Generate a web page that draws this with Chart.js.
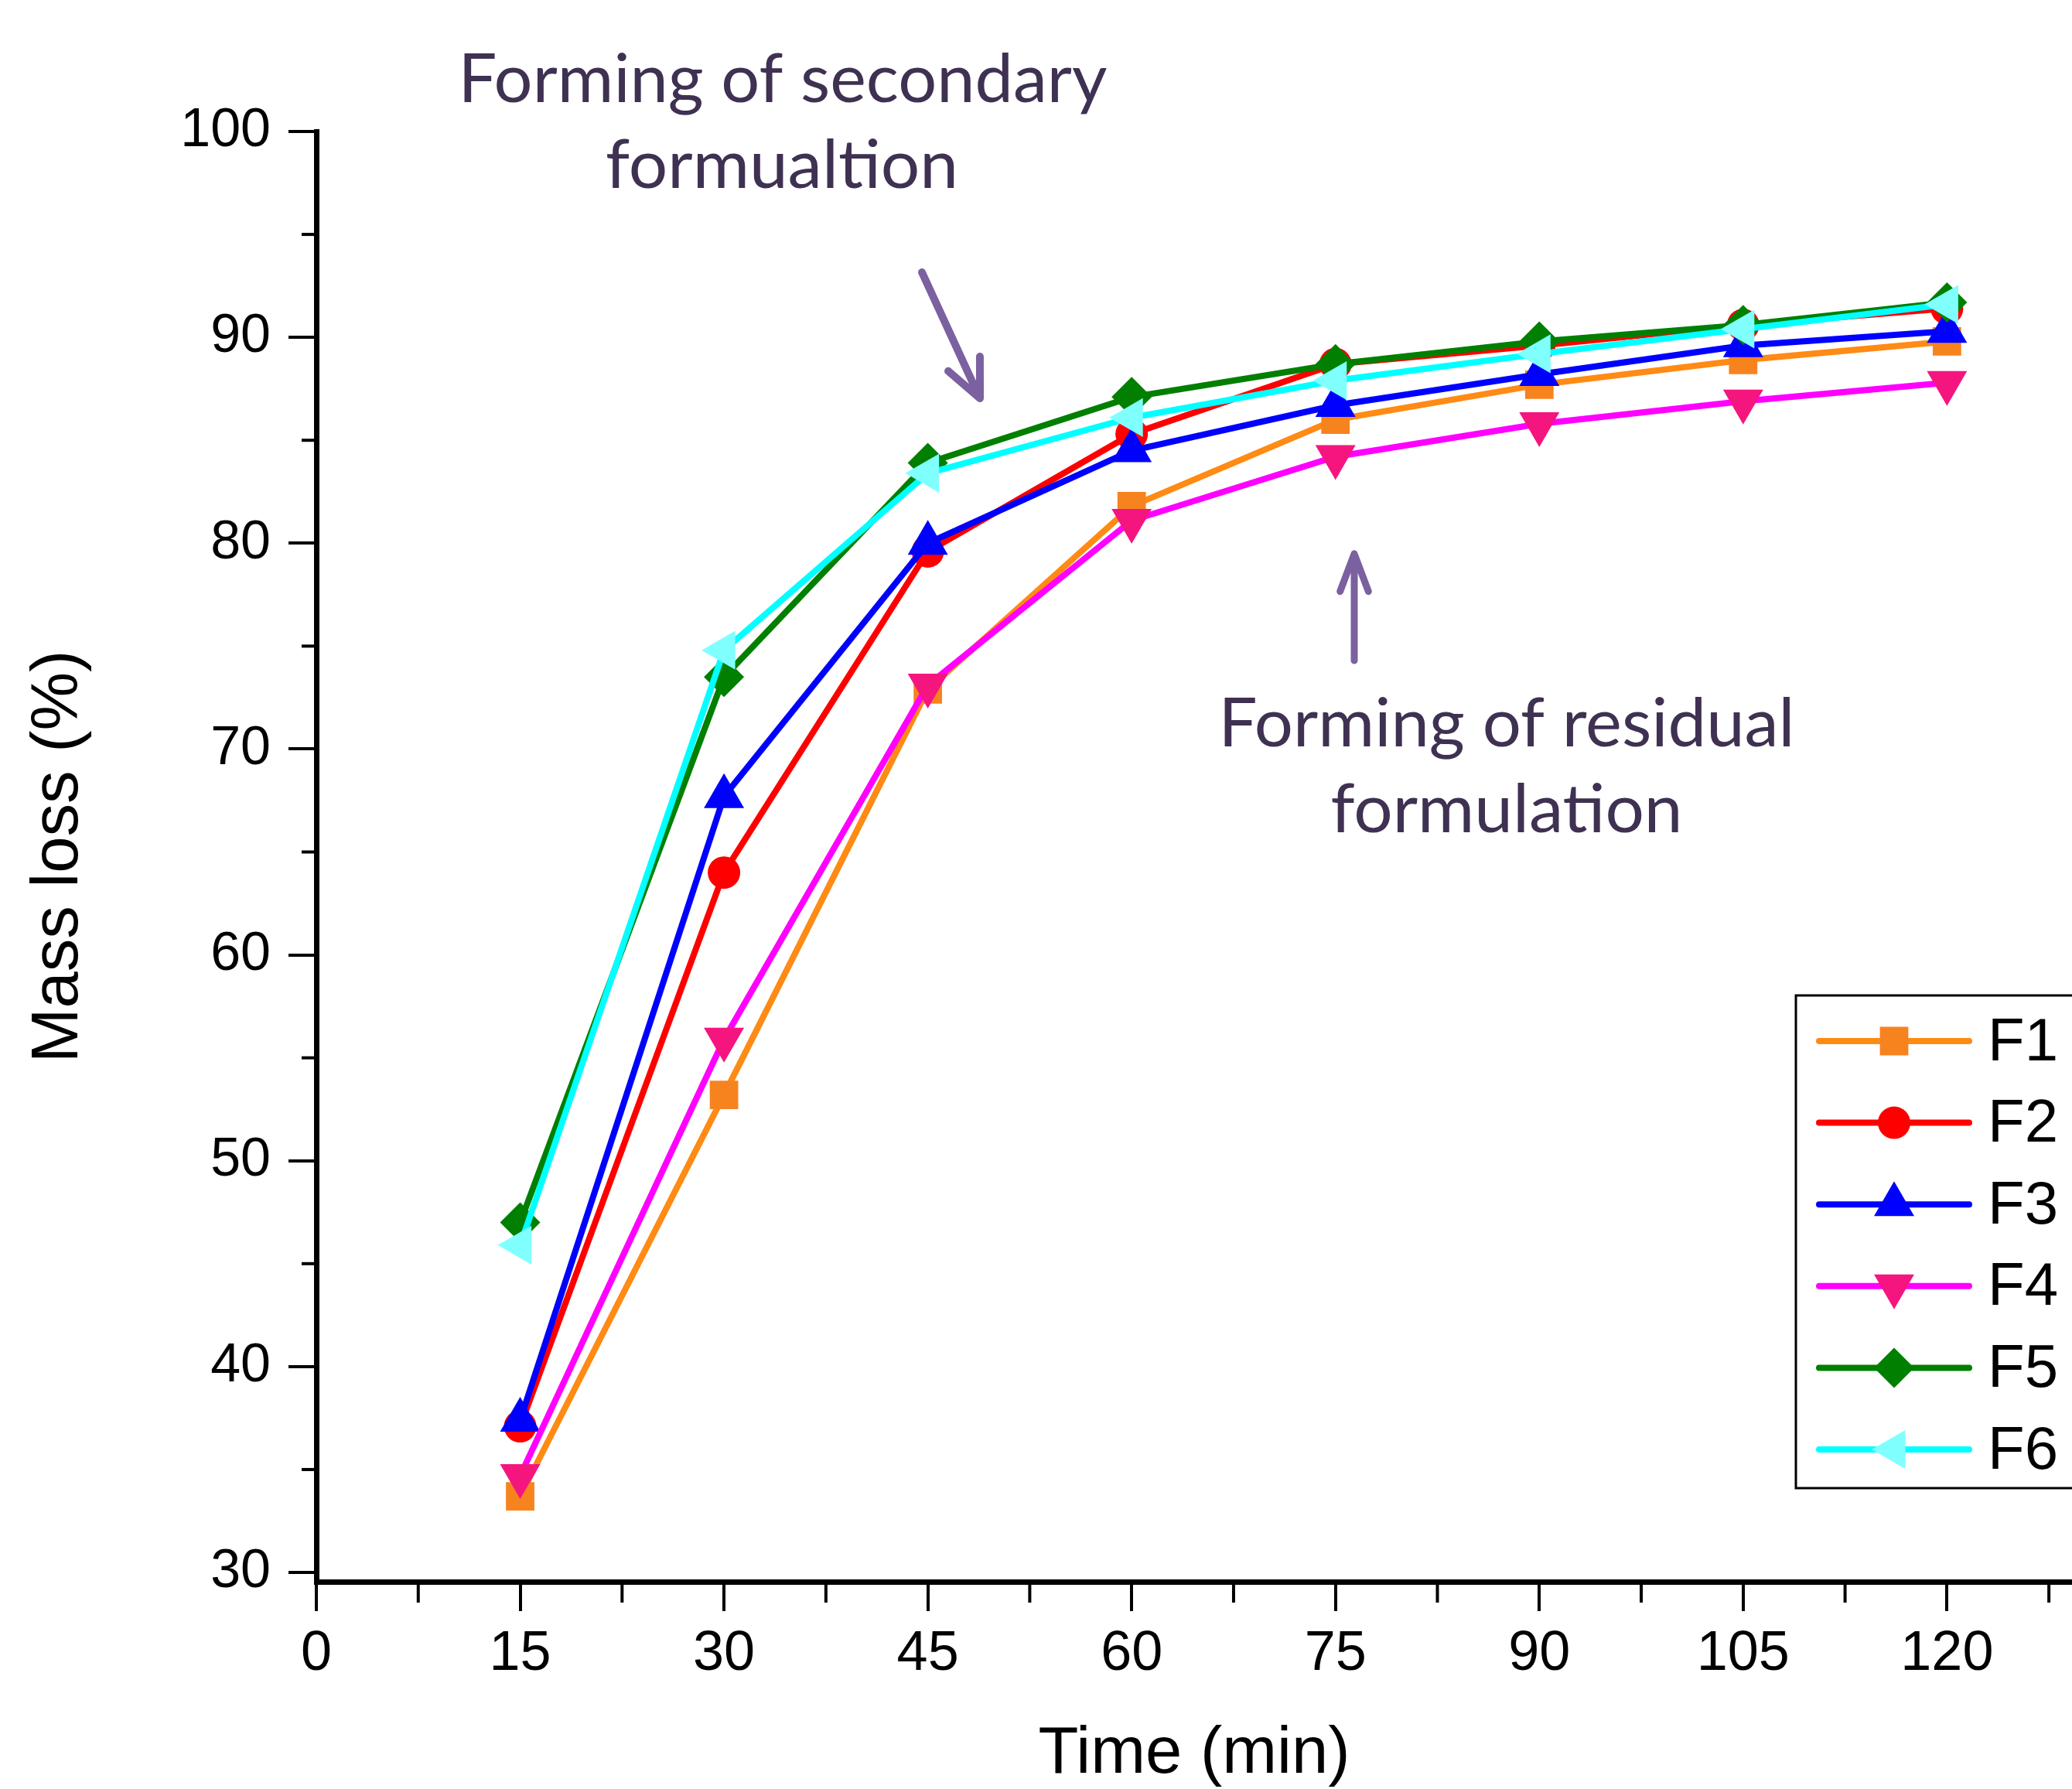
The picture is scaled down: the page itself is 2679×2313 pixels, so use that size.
<!DOCTYPE html>
<html>
<head>
<meta charset="utf-8">
<script src="https://cdn.jsdelivr.net/npm/chart.js@4.4.1/dist/chart.umd.min.js"></script>
<style>
  html, body { margin: 0; padding: 0; background: #fff; overflow: hidden; }
</style>
</head>
<body>
<canvas id="myChart" width="2679" height="2313"></canvas>
<script>
// data
const times = [15, 30, 45, 60, 75, 90, 105, 120]
const seriesNames = ['F1', 'F2', 'F3', 'F4', 'F5', 'F6']
const f1 = [33.7, 53.2, 72.9, 81.8, 86.0, 87.7, 88.9, 89.8]
const f2 = [37.1, 64.0, 79.6, 85.3, 88.7, 89.6, 90.6, 91.4]
const f3 = [37.4, 67.7, 80.0, 84.5, 86.7, 88.2, 89.6, 90.3]
const f4 = [34.7, 55.9, 73.1, 81.1, 84.2, 85.8, 86.9, 87.8]
const f5 = [47.0, 73.5, 83.9, 87.1, 88.7, 89.8, 90.6, 91.7]
const f6 = [45.9, 74.8, 83.4, 86.1, 87.9, 89.2, 90.4, 91.6]
const xTicks = [0, 15, 30, 45, 60, 75, 90, 105, 120]
const yTicks = [30, 40, 50, 60, 70, 80, 90, 100]

const allSeries = [f1, f2, f3, f4, f5, f6]

// looks
const lineColors = ['#FF8A14', '#FF0000', '#0000FF', '#FF00FF', '#007F00', '#00FFFF']
const markerColors = ['#F7831F', '#FF0000', '#0000FF', '#F5157F', '#007F00', '#80FFFF']
const markerShapes = ['rect', 'circle', 'triangle', 'triangle', 'rectRot', 'triangle']
const markerRotations = [0, 0, 0, 180, 0, 270]
const markerRadius = [26, 21, 30, 30, 26, 29]

const axisFont = 'Liberation Sans, Arial, sans-serif'
const noteFont = 'Lato, "Open Sans", sans-serif'

const datasets = allSeries.map((vals, i) => ({
  label: seriesNames[i],
  data: times.map((t, j) => ({ x: t, y: vals[j] })),
  borderColor: lineColors[i],
  backgroundColor: markerColors[i],
  pointBackgroundColor: markerColors[i],
  pointBorderWidth: 0,
  pointStyle: markerShapes[i],
  rotation: markerRotations[i],
  pointRadius: markerRadius[i],
  borderWidth: 8,
  tension: 0,
  clip: false,
  order: seriesNames.length - i
}))

function arrow(ctx, x1, y1, x2, y2, headLen, spread) {
  const ang = Math.atan2(y1 - y2, x1 - x2)
  ctx.beginPath()
  ctx.moveTo(x1, y1)
  ctx.lineTo(x2, y2)
  ctx.moveTo(x2 + Math.cos(ang - spread) * headLen, y2 + Math.sin(ang - spread) * headLen)
  ctx.lineTo(x2, y2)
  ctx.lineTo(x2 + Math.cos(ang + spread) * headLen, y2 + Math.sin(ang + spread) * headLen)
  ctx.stroke()
}

function note(ctx, text, cx, baseY, width) {
  const w = ctx.measureText(text).width
  ctx.save()
  ctx.translate(cx, baseY)
  ctx.scale(width / w, 1)
  ctx.fillText(text, 0, 0)
  ctx.restore()
}

const extras = {
  id: 'extras',
  afterDraw(chart) {
    const ctx = chart.ctx
    const xs = chart.scales.x
    const ys = chart.scales.y
    const area = chart.chartArea
    ctx.save()

    // minor ticks
    ctx.strokeStyle = '#000'
    ctx.lineWidth = 4
    for (let k = 0; k < xTicks.length; k++) {
      const v = xTicks[k] + 7.5
      if (v > xs.max) break
      const px = xs.getPixelForValue(v)
      ctx.beginPath(); ctx.moveTo(px, area.bottom); ctx.lineTo(px, area.bottom + 27); ctx.stroke()
    }
    for (let k = 0; k < yTicks.length - 1; k++) {
      const py = ys.getPixelForValue(yTicks[k] + 5)
      ctx.beginPath(); ctx.moveTo(area.left, py); ctx.lineTo(area.left - 19, py); ctx.stroke()
    }

    // legend
    ctx.lineWidth = 3
    ctx.strokeRect(2322, 1287, 420, 637)
    ctx.font = '78px ' + axisFont
    ctx.textBaseline = 'middle'
    ctx.textAlign = 'left'
    chart.data.datasets.forEach((ds, i) => {
      const y = 1346 + i * 105.6
      ctx.strokeStyle = ds.borderColor
      ctx.lineWidth = 8
      ctx.lineCap = 'round'
      ctx.beginPath(); ctx.moveTo(2352, y); ctx.lineTo(2546, y); ctx.stroke()
      ctx.fillStyle = ds.pointBackgroundColor
      Chart.helpers.drawPoint(ctx, {
        pointStyle: ds.pointStyle, rotation: ds.rotation,
        radius: ds.pointRadius, borderWidth: 0
      }, 2449, y)
      ctx.fillStyle = '#000'
      ctx.fillText(ds.label, 2570, y + 3)
    })

    // annotations
    ctx.strokeStyle = '#7B61A0'
    ctx.lineWidth = 10
    ctx.lineCap = 'round'
    ctx.lineJoin = 'round'
    arrow(ctx, 1192, 352, 1267, 515, 54, 0.43)
    ctx.lineWidth = 9
    arrow(ctx, 1751, 854, 1751, 716, 52, 0.36)

    ctx.fillStyle = '#3F3152'
    ctx.font = '88px ' + noteFont
    ctx.textAlign = 'center'
    ctx.textBaseline = 'alphabetic'
    note(ctx, 'Forming of secondary', 1012, 132, 839)
    note(ctx, 'formualtion', 1011, 243, 456)
    note(ctx, 'Forming of residual', 1948, 965, 745)
    note(ctx, 'formulation', 1948, 1076, 455)

    ctx.restore()
  }
}

const ctx = document.getElementById('myChart').getContext('2d')
const myChart = new Chart(ctx, {
  type: 'line',
  data: { datasets: datasets },
  plugins: [extras],
  options: {
    responsive: false,
    animation: false,
    devicePixelRatio: 1,
    layout: { autoPadding: false, padding: { top: 170, right: 0, bottom: 0, left: 0 } },
    plugins: {
      legend: { display: false },
      tooltip: { enabled: false }
    },
    scales: {
      x: {
        type: 'linear',
        min: 0,
        max: 129.2,
        afterBuildTicks: (scale) => { scale.ticks = xTicks.map(v => ({ value: v })) },
        afterFit: (scale) => {
          scale.height = 268
          scale.paddingLeft = 0
          scale.paddingRight = 0
        },
        border: { color: '#000', width: 7 },
        grid: { drawOnChartArea: false, drawTicks: true, tickLength: 38, lineWidth: 4, color: '#000' },
        ticks: {
          color: '#000', padding: 13, maxRotation: 0, autoSkip: false,
          font: { family: axisFont, size: 72 }
        },
        title: {
          display: true, text: 'Time (min)', color: '#000',
          font: { family: axisFont, size: 85, lineHeight: 1 },
          padding: { top: 0, bottom: 2 }
        }
      },
      y: {
        type: 'linear',
        min: 29.55,
        max: 100,
        afterBuildTicks: (scale) => { scale.ticks = yTicks.map(v => ({ value: v })) },
        afterFit: (scale) => { scale.width = 409 },
        border: { color: '#000', width: 7 },
        grid: { drawOnChartArea: false, drawTicks: true, tickLength: 36, lineWidth: 4, color: '#000' },
        ticks: {
          color: '#000', padding: 23,
          font: { family: axisFont, size: 70 }
        },
        title: {
          display: true, text: 'Mass loss (%)', color: '#000',
          font: { family: axisFont, size: 85, lineHeight: 1 },
          padding: { top: 34, bottom: 0 }
        }
      }
    }
  }
})
</script>
</body>
</html>
